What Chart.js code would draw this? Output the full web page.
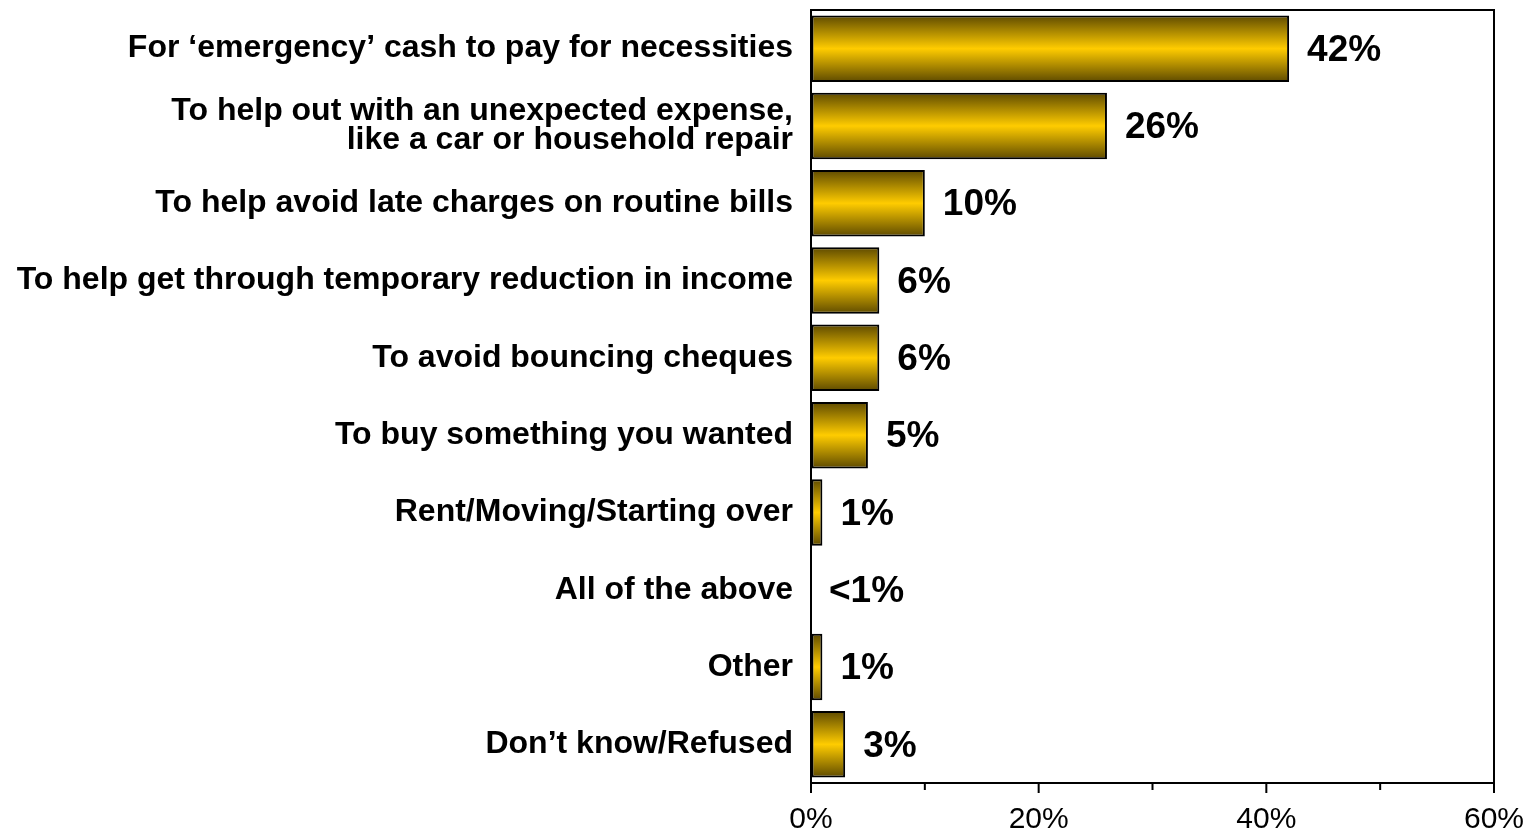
<!DOCTYPE html>
<html>
<head>
<meta charset="utf-8">
<script src="https://cdn.jsdelivr.net/npm/chart.js@4/dist/chart.umd.min.js"></script>
<style>
  html, body { margin: 0; padding: 0; background: #fff; }
  canvas { display: block; }
</style>
</head>
<body>
<canvas id="reasonsChart" width="1530" height="830"></canvas>
<script>
const reasons = [
  "For \u2018emergency\u2019 cash to pay for necessities",
  ["To help out with an unexpected expense,", "like a car or household repair"],
  "To help avoid late charges on routine bills",
  "To help get through temporary reduction in income",
  "To avoid bouncing cheques",
  "To buy something you wanted",
  "Rent/Moving/Starting over",
  "All of the above",
  "Other",
  "Don\u2019t know/Refused",
];
const shares = [42, 26, 10, 6, 6, 5, 1, 0, 1, 3];
const shareLabels = ["42%", "26%", "10%", "6%", "6%", "5%", "1%", "<1%", "1%", "3%"];
const majorTicks = [0, 20, 40, 60];
const minorTicks = [10, 30, 50];

const fontFamily = "'Liberation Sans', Arial, sans-serif";
const barPct = 0.86;

// gold bars shaded dark at the edges, bright through the middle
function barGradient(context) {
  const chart = context.chart;
  const area = chart.chartArea;
  if (!area) return "#ffcc00";
  const y = chart.scales.y.getPixelForValue(context.dataIndex);
  const half = (area.height / reasons.length) * barPct / 2;
  const g = chart.ctx.createLinearGradient(0, y - half, 0, y + half);
  g.addColorStop(0, "#5e4a00");
  g.addColorStop(0.5, "#ffcc00");
  g.addColorStop(1, "#5e4a00");
  return g;
}

const framePlugin = {
  id: "frame",
  afterDraw(chart) {
    const { ctx, chartArea: a } = chart;
    const x = chart.scales.x;
    ctx.save();
    ctx.strokeStyle = "#000";
    ctx.lineWidth = 2;
    ctx.strokeRect(a.left, a.top, a.right - a.left, a.bottom - a.top);
    // tick marks under the axis, long for labelled values
    ctx.beginPath();
    majorTicks.forEach((v) => {
      const px = x.getPixelForValue(v);
      ctx.moveTo(px, a.bottom);
      ctx.lineTo(px, a.bottom + 10);
    });
    minorTicks.forEach((v) => {
      const px = x.getPixelForValue(v);
      ctx.moveTo(px, a.bottom);
      ctx.lineTo(px, a.bottom + 7);
    });
    ctx.stroke();
    ctx.restore();
  },
};

const valueLabelPlugin = {
  id: "valueLabels",
  afterDatasetsDraw(chart) {
    const { ctx } = chart;
    const meta = chart.getDatasetMeta(0);
    ctx.save();
    ctx.fillStyle = "#000";
    ctx.font = "bold 37px " + fontFamily;
    ctx.textAlign = "left";
    ctx.textBaseline = "middle";
    meta.data.forEach((bar, i) => {
      ctx.fillText(shareLabels[i], bar.x + 18, bar.y + 2);
    });
    ctx.restore();
  },
};

new Chart(document.getElementById("reasonsChart"), {
  type: "bar",
  data: {
    labels: reasons,
    datasets: [{
      data: shares,
      backgroundColor: barGradient,
      borderColor: "#000",
      borderWidth: 2,
      borderSkipped: false,
      barPercentage: barPct,
      categoryPercentage: 1,
    }],
  },
  options: {
    indexAxis: "y",
    responsive: false,
    animation: false,
    layout: { padding: { top: 10, right: 36, left: 0, bottom: 0 } },
    plugins: {
      legend: { display: false },
      tooltip: { enabled: false },
    },
    scales: {
      y: {
        grid: { display: false },
        border: { display: true, color: "#000", width: 2 },
        ticks: {
          color: "#000",
          padding: 10,
          font: { family: fontFamily, size: 32, weight: "bold", lineHeight: 0.9 },
        },
        afterFit(scale) {
          scale.width = 811;
          scale.paddingTop = 0;
          scale.paddingBottom = 0;
        },
      },
      x: {
        min: 0,
        max: 60,
        grid: { drawOnChartArea: false, drawTicks: false },
        border: { display: true, color: "#000", width: 2 },
        ticks: {
          stepSize: 20,
          color: "#000",
          padding: 19,
          font: { family: fontFamily, size: 30 },
          callback: (v) => v + "%",
        },
        afterFit(scale) {
          scale.height = 47;
          scale.paddingLeft = 0;
          scale.paddingRight = 0;
        },
      },
    },
  },
  plugins: [framePlugin, valueLabelPlugin],
});
</script>
</body>
</html>
